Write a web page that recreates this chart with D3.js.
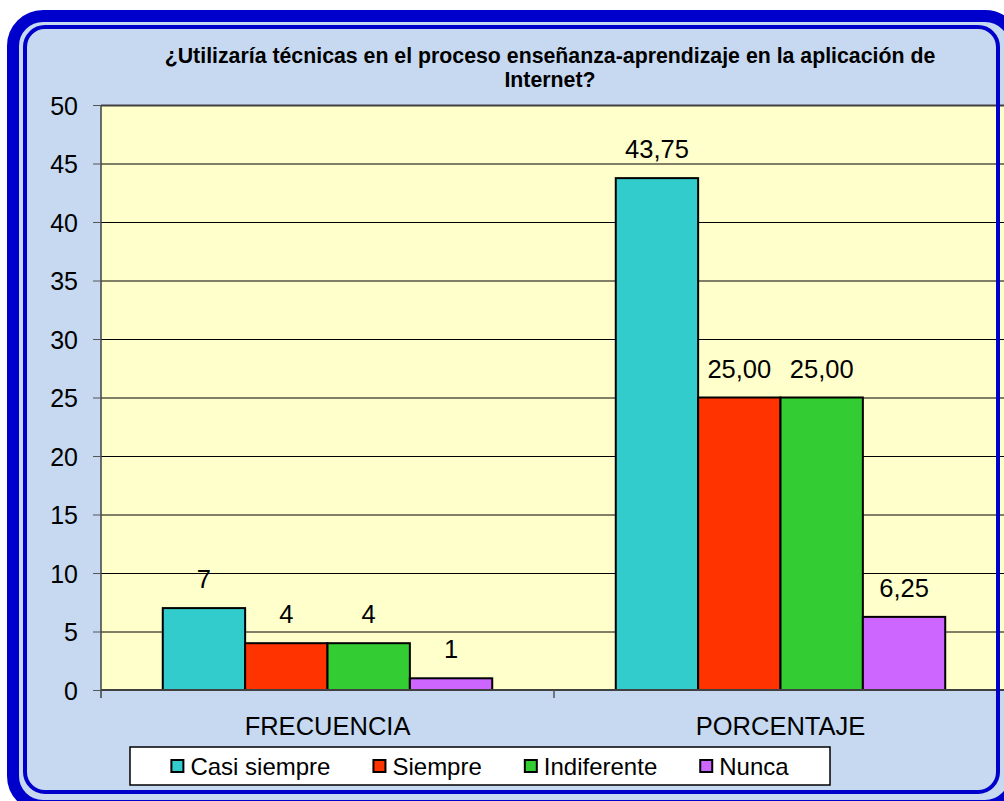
<!DOCTYPE html>
<html>
<head>
<meta charset="utf-8">
<script src="https://cdn.jsdelivr.net/npm/d3@7"></script>
<style>
  html, body { margin: 0; padding: 0; background: #ffffff; }
  text { font-family: "Liberation Sans", Arial, sans-serif; fill: #000; }
</style>
</head>
<body>
<div id="chart"></div>
<script>
const WIDTH = 1004;
const HEIGHT = 801;

const categories = ["FRECUENCIA", "PORCENTAJE"];
const series = ["Casi siempre", "Siempre", "Indiferente", "Nunca"];
const frecuencia = [7, 4, 4, 1];
const porcentaje = [43.75, 25.0, 25.0, 6.25];
const yTicks = [0, 5, 10, 15, 20, 25, 30, 35, 40, 45, 50];
const titleLines = [
  "¿Utilizaría técnicas en el proceso enseñanza-aprendizaje en la aplicación de",
  "Internet?",
];

const COLORS = {
  "Casi siempre": "#33cccc",
  Siempre: "#ff3300",
  Indiferente: "#33cc33",
  Nunca: "#cc66ff",
};

const FONT = "'Liberation Sans', Arial, sans-serif";
const PLOT = { left: 101, right: 1007, top: 105, bottom: 690 };

const svg = d3
  .select("#chart")
  .append("svg")
  .attr("width", WIDTH)
  .attr("height", HEIGHT);

// outer frame
svg
  .append("rect")
  .attr("x", 13)
  .attr("y", 16)
  .attr("width", 1002)
  .attr("height", 790)
  .attr("rx", 30)
  .attr("fill", "#c6d9f0")
  .attr("stroke", "#0000cc")
  .attr("stroke-width", 12);

const x0 = d3.scaleBand().domain(categories).range([PLOT.left, PLOT.right]);
const x1 = d3
  .scaleBand()
  .domain(series)
  .range([0, x0.bandwidth()])
  .paddingInner(0)
  .paddingOuter(0.75);
const y = d3.scaleLinear().domain([0, 50]).range([PLOT.bottom, PLOT.top]);

// plot area
svg
  .append("rect")
  .attr("x", PLOT.left)
  .attr("y", PLOT.top)
  .attr("width", PLOT.right - PLOT.left)
  .attr("height", PLOT.bottom - PLOT.top)
  .attr("fill", "#ffffcc");

// grid
svg
  .append("g")
  .attr("class", "grid")
  .attr("transform", `translate(${PLOT.left},0)`)
  .call(d3.axisLeft(y).tickValues(yTicks).tickSize(-(PLOT.right - PLOT.left)).tickFormat(""))
  .call((g) => g.select(".domain").remove())
  .call((g) =>
    g
      .selectAll(".tick line")
      .attr("stroke", (d) => (d === 50 ? "#404040" : "#000"))
      .attr("stroke-width", (d) => (d === 50 ? 2 : 1))
  );

// y axis
svg
  .append("g")
  .attr("class", "y-axis")
  .attr("transform", `translate(${PLOT.left},0)`)
  .call(d3.axisLeft(y).tickValues(yTicks).tickSize(8).tickPadding(15).tickFormat((d) => d))
  .call((g) => g.select(".domain").attr("stroke", "#404040").attr("stroke-width", 1.5).attr("d", `M0,${PLOT.top}V${PLOT.bottom + 8}`))
  .call((g) => g.selectAll(".tick line").attr("stroke", "#555"))
  .call((g) =>
    g
      .selectAll(".tick text")
      .attr("font-size", 25)
      .attr("dy", "0.36em")
      .style("font-family", FONT)
  );

// bars
const barData = [];
categories.forEach((cat, ci) => {
  const vals = ci === 0 ? frecuencia : porcentaje;
  series.forEach((s, si) => barData.push({ cat, s, value: vals[si], pct: ci === 1 }));
});

svg
  .append("g")
  .attr("class", "bars")
  .selectAll("rect")
  .data(barData)
  .join("rect")
  .attr("x", (d) => x0(d.cat) + x1(d.s))
  .attr("y", (d) => y(d.value))
  .attr("width", x1.bandwidth())
  .attr("height", (d) => y(0) - y(d.value))
  .attr("fill", (d) => COLORS[d.s])
  .attr("stroke", "#000")
  .attr("stroke-width", 2);

// x axis
svg
  .append("g")
  .attr("class", "x-axis")
  .attr("transform", `translate(0,${PLOT.bottom})`)
  .call(d3.axisBottom(x0).tickSize(0).tickPadding(27))
  .call((g) => g.select(".domain").attr("stroke", "#404040").attr("stroke-width", 2).attr("d", `M${PLOT.left},0H${PLOT.right}`))
  .call((g) =>
    g
      .selectAll(".tick text")
      .attr("font-size", 25.5)
      .style("font-family", FONT)
  );

svg
  .append("g")
  .selectAll("line")
  .data(x0.domain().slice(1))
  .join("line")
  .attr("x1", (d) => x0(d))
  .attr("x2", (d) => x0(d))
  .attr("y1", PLOT.bottom)
  .attr("y2", PLOT.bottom + 8)
  .attr("stroke", "#555")
  .attr("stroke-width", 1.5);

// value labels
svg
  .append("g")
  .attr("class", "bar-labels")
  .selectAll("text")
  .data(barData)
  .join("text")
  .attr("x", (d) => x0(d.cat) + x1(d.s) + x1.bandwidth() / 2)
  .attr("y", (d) => y(d.value) - 20)
  .attr("text-anchor", "middle")
  .attr("font-size", 25.5)
  .text((d) => (d.pct ? d.value.toFixed(2).replace(".", ",") : d.value));

// title
svg
  .append("g")
  .selectAll("text")
  .data(titleLines)
  .join("text")
  .attr("x", 550)
  .attr("y", (_, i) => 63 + i * 24)
  .attr("text-anchor", "middle")
  .attr("font-size", 21.3)
  .attr("font-weight", "bold")
  .text((d) => d);

// legend
const legendBox = { x: 130, y: 747, w: 700, h: 38 };
svg
  .append("rect")
  .attr("x", legendBox.x)
  .attr("y", legendBox.y)
  .attr("width", legendBox.w)
  .attr("height", legendBox.h)
  .attr("fill", "#fff")
  .attr("stroke", "#000")
  .attr("stroke-width", 1.5);

const legend = svg.append("g").attr("class", "legend");
const items = legend
  .selectAll("g")
  .data(series)
  .join("g");
items
  .append("rect")
  .attr("width", 12)
  .attr("height", 12)
  .attr("y", -6)
  .attr("fill", (d) => COLORS[d])
  .attr("stroke", "#000")
  .attr("stroke-width", 2);
items
  .append("text")
  .attr("x", 19)
  .attr("dy", "0.36em")
  .attr("font-size", 24)
  .text((d) => d);

let cx = 0;
const offsets = [];
items.each(function () {
  offsets.push(cx);
  const w = d3.select(this).select("text").node().getComputedTextLength();
  cx += 19 + w + 43;
});
const total = cx - 43;
const startX = legendBox.x + (legendBox.w - total) / 2;
items.attr("transform", (_, i) => `translate(${startX + offsets[i]},${legendBox.y + legendBox.h / 2})`);

// inner frame line
svg
  .append("rect")
  .attr("x", 25)
  .attr("y", 27)
  .attr("width", 973)
  .attr("height", 765)
  .attr("rx", 20)
  .attr("fill", "none")
  .attr("stroke", "#0000cc")
  .attr("stroke-width", 4);
</script>
</body>
</html>
